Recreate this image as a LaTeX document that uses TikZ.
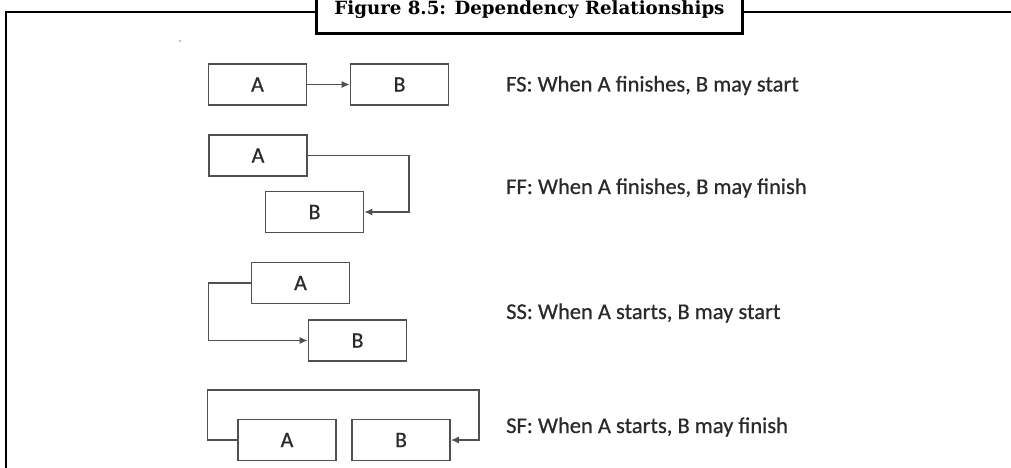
\documentclass[tikz,border=0pt]{standalone}
\usepackage{fontspec}
\setmainfont{Liberation Serif}
\setsansfont{Carlito}
\newfontfamily\boxfont{Carlito}[FakeBold=0.6]
\newfontfamily\headfont{DejaVu Serif}
\usepackage{tikz}
\usetikzlibrary{arrows.meta,positioning}
\usepackage{xcolor}
\definecolor{boxgray}{HTML}{505050}
\definecolor{textgray}{HTML}{2A2A2A}

\begin{document}
\begin{tikzpicture}[x=1pt,y=-1pt,
task/.style={draw=boxgray,line width=1.7pt,minimum width=98pt,minimum height=41pt,inner sep=0pt,text=textgray,font=\boxfont\fontsize{22}{22}\selectfont},
link/.style={draw=boxgray,line width=1.3pt,-{Latex[length=8pt,width=7pt]}},
note/.style={anchor=west,inner sep=0pt,text=textgray,font=\boxfont\fontsize{22.5}{22.5}\selectfont},
frame/.style={draw=black,line width=2.8pt},
titlebox/.style={frame,fill=white,minimum width=426pt,minimum height=52.5pt,inner sep=0pt,text height=20pt,text depth=4.5pt,font=\headfont\bfseries\fontsize{18.2}{18.2}\selectfont}]
\clip (0,0) rectangle (1011,468);
\draw[frame] (6,480) -- (6,12) -- (1020,12);
\node[titlebox] (title) at (529.5,7.25) {Figure 8.5: Dependency Relationships};
\fill (180,41) circle (0.7pt);
% finish to start
\node[task] (fsA) at (257.5,84.5) {A};
\node[task] (fsB) at (399.5,84.5) {B};
\draw[link] (fsA.east) -- (fsB.west);
\node[note] (fsN) at (506,85.5) {FS: When A finishes, B may start};
% finish to finish
\node[task] (ffA) at (258,155.5) {A};
\node[task] (ffB) at (314.5,212) {B};
\draw[link] (ffA.east) -- ++(101,0) |- (ffB.east);
\node[note] (ffN) at (506,188) {FF: When A finishes, B may finish};
% start to start
\node[task] (ssA) at (300.5,283) {A};
\node[task] (ssB) at (357.5,340.5) {B};
\draw[link] (ssA.west) -- ++(-42,0) |- (ssB.west);
\node[note] (ssN) at (506,313) {SS: When A starts, B may start};
% start to finish
\node[task] (sfA) at (287,440) {A};
\node[task] (sfB) at (401,440) {B};
\draw[link] (sfA.west) -- ++(-30,0) |- ([xshift=28pt,yshift=50pt]sfB.east) |- (sfB.east);
\node[note] (sfN) at (506,427) {SF: When A starts, B may finish};
\end{tikzpicture}
\end{document}
